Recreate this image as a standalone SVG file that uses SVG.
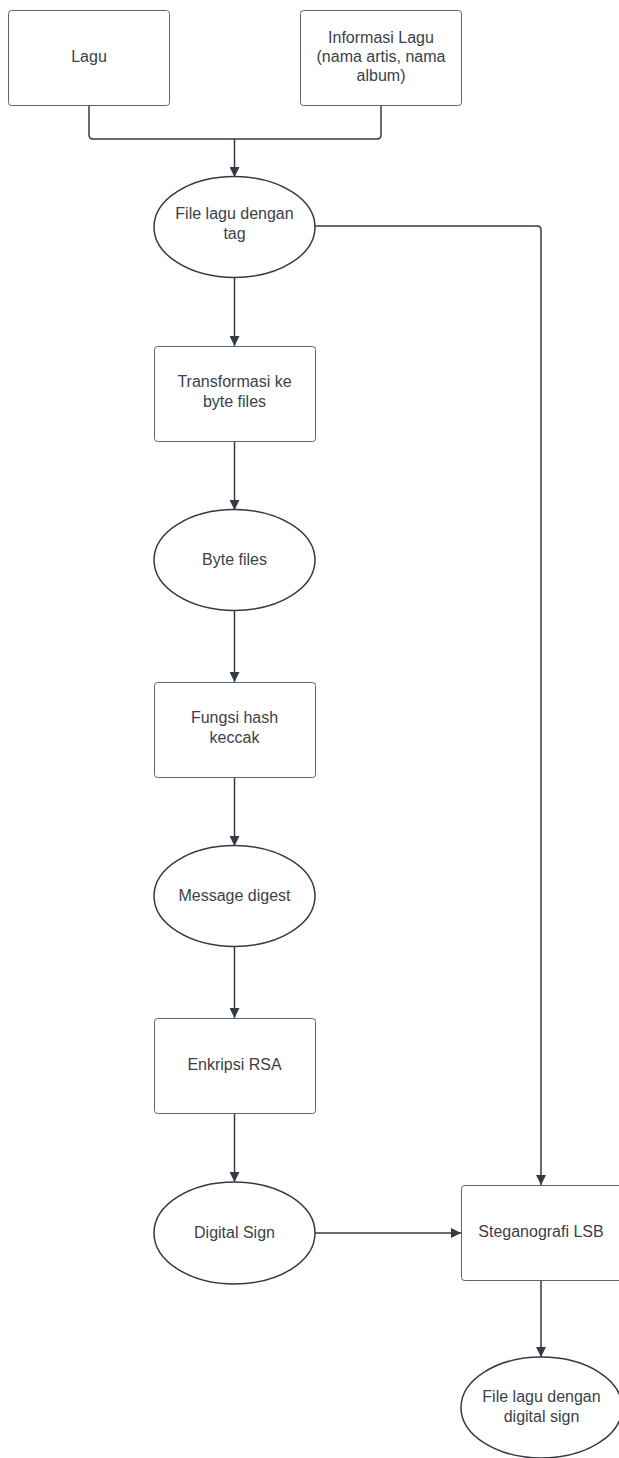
<svg xmlns="http://www.w3.org/2000/svg" width="619" height="1458" viewBox="0 0 619 1458">
  <style>
    .box { fill: #ffffff; stroke: #5e6570; stroke-width: 1; }
    .oval { fill: #ffffff; stroke: #333a45; stroke-width: 1.5; }
    .lbl { font-family: "Liberation Sans", Arial, sans-serif; font-size: 16px; fill: #3a414a; text-anchor: middle; }
    .wire { fill: none; stroke: #333a45; stroke-width: 1.5; }
  </style>
  <defs>
    <marker id="arrow" viewBox="0 0 10 10" refX="10" refY="5" markerWidth="10" markerHeight="10" markerUnits="userSpaceOnUse" orient="auto">
      <path d="M0,0 L10,5 L0,10 Z" fill="#333a45"/>
    </marker>
  </defs>
  <rect width="619" height="1458" fill="#ffffff"/>

  <g id="connectors">
    <path class="wire" d="M89,105 V135 Q89,139 93,139 H377 Q381,139 381,135 V105"/>
    <path class="wire" d="M234.5,139 V177" marker-end="url(#arrow)"/>
    <path class="wire" d="M314,226 H537 Q541,226 541,230 V1185" marker-end="url(#arrow)"/>
    <path class="wire" d="M234.5,277 V346" marker-end="url(#arrow)"/>
    <path class="wire" d="M234.5,441 V510" marker-end="url(#arrow)"/>
    <path class="wire" d="M234.5,610 V682" marker-end="url(#arrow)"/>
    <path class="wire" d="M234.5,777 V846" marker-end="url(#arrow)"/>
    <path class="wire" d="M234.5,946 V1018" marker-end="url(#arrow)"/>
    <path class="wire" d="M234.5,1113 V1182" marker-end="url(#arrow)"/>
    <path class="wire" d="M315,1233 H461" marker-end="url(#arrow)"/>
    <path class="wire" d="M541,1280 V1357" marker-end="url(#arrow)"/>
  </g>

  <g id="lagu">
    <rect class="box" x="8.5" y="10.5" width="161" height="95" rx="3"/>
    <text class="lbl" x="89" y="62">Lagu</text>
  </g>
  <g id="informasi-lagu">
    <rect class="box" x="300.5" y="10.5" width="161" height="95" rx="3"/>
    <text class="lbl" x="381" y="42.5">Informasi Lagu</text>
    <text class="lbl" x="381" y="62">(nama artis, nama</text>
    <text class="lbl" x="381" y="81">album)</text>
  </g>
  <g id="file-lagu-tag">
    <ellipse class="oval" cx="234.5" cy="227" rx="80.5" ry="50.5"/>
    <text class="lbl" x="234.5" y="219">File lagu dengan</text>
    <text class="lbl" x="234.5" y="239">tag</text>
  </g>
  <g id="transformasi">
    <rect class="box" x="154.5" y="346.5" width="161" height="95" rx="3"/>
    <text class="lbl" x="234.5" y="387">Transformasi ke</text>
    <text class="lbl" x="234.5" y="407">byte files</text>
  </g>
  <g id="byte-files">
    <ellipse class="oval" cx="234.5" cy="560" rx="80.5" ry="50.5"/>
    <text class="lbl" x="234.5" y="565">Byte files</text>
  </g>
  <g id="fungsi-hash">
    <rect class="box" x="154.5" y="682.5" width="161" height="95" rx="3"/>
    <text class="lbl" x="234.5" y="723">Fungsi hash</text>
    <text class="lbl" x="234.5" y="743">keccak</text>
  </g>
  <g id="message-digest">
    <ellipse class="oval" cx="234.5" cy="896" rx="80.5" ry="50.5"/>
    <text class="lbl" x="234.5" y="901">Message digest</text>
  </g>
  <g id="enkripsi-rsa">
    <rect class="box" x="154.5" y="1018.5" width="161" height="95" rx="3"/>
    <text class="lbl" x="234.5" y="1070">Enkripsi RSA</text>
  </g>
  <g id="digital-sign">
    <ellipse class="oval" cx="234.5" cy="1233" rx="80.5" ry="51"/>
    <text class="lbl" x="234.5" y="1238">Digital Sign</text>
  </g>
  <g id="steganografi">
    <rect class="box" x="461.5" y="1185.5" width="161" height="95" rx="3"/>
    <text class="lbl" x="541" y="1237">Steganografi LSB</text>
  </g>
  <g id="file-lagu-digital-sign">
    <ellipse class="oval" cx="541.5" cy="1407.5" rx="80.5" ry="50.5"/>
    <text class="lbl" x="541.5" y="1402">File lagu dengan</text>
    <text class="lbl" x="541.5" y="1422">digital sign</text>
  </g>
</svg>
